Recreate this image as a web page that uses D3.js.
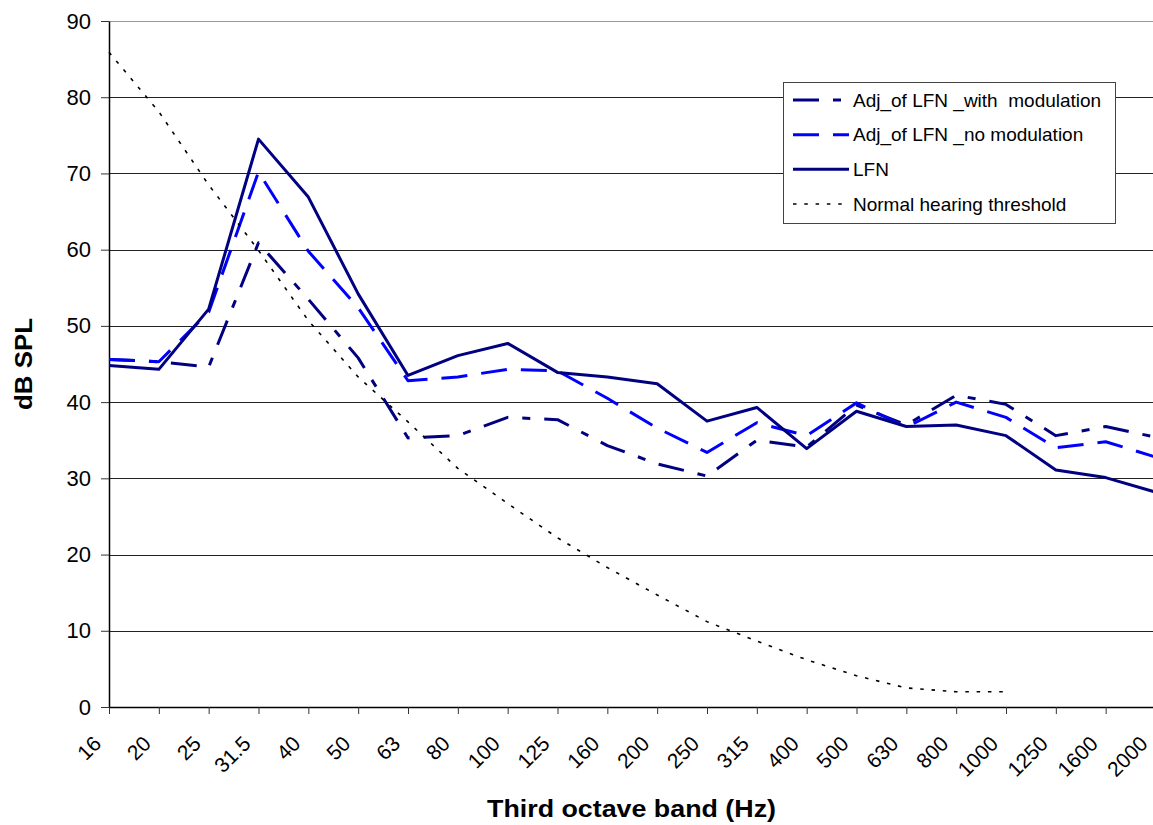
<!DOCTYPE html>
<html>
<head>
<meta charset="utf-8">
<script src="https://cdn.jsdelivr.net/npm/d3@7"></script>
<style>
  body { margin: 0; background: #fff; }
  svg { display: block; font-family: Arial, "Liberation Sans", sans-serif; }
</style>
</head>
<body>
<div id="graph"></div>
<script>
// Third octave bands (Hz)
const bands = ["16", "20", "25", "31.5", "40", "50", "63", "80", "100", "125", "160",
  "200", "250", "315", "400", "500", "630", "800", "1000", "1250", "1600", "2000"];
const yTicks = [0, 10, 20, 30, 40, 50, 60, 70, 80, 90];

// dB SPL values
const withModulation = [45.6, 45.3, 44.6, 60.9, 53.5, 45.8, 35.3, 35.6, 38.0, 37.7, 34.3,
  31.9, 30.3, 35.0, 34.1, 39.6, 37.0, 40.9, 39.7, 35.6, 36.8, 35.4];
const noModulation = [45.6, 45.3, 51.8, 70.2, 59.8, 52.4, 42.8, 43.3, 44.3, 44.1, 40.5,
  36.6, 33.4, 37.3, 35.6, 39.9, 36.7, 40.0, 38.0, 34.0, 34.8, 32.8];
const lfn = [44.8, 44.3, 52.2, 74.5, 66.9, 54.2, 43.5, 46.1, 47.7, 43.9, 43.3,
  42.4, 37.5, 39.3, 33.9, 38.8, 36.8, 37.0, 35.6, 31.1, 30.1, 28.2];
// threshold stops at 1000 Hz
const hearingThreshold = [85.9, 78.1, 68.5, 59.9, 50.7, 43.3, 37.4, 31.3, 26.7, 22.2, 18.3,
  14.7, 11.2, 8.65, 6.2, 4.1, 2.5, 2.0, 2.0];

const seriesNames = ["Adj_of LFN _with  modulation", "Adj_of LFN _no modulation", "LFN", "Normal hearing threshold"];

const width = 1153;
const height = 825;
const plotLeft = 109;
const plotRight = 1155.5;
const plotTop = 21;
const plotBottom = 707;

const x = d3.scalePoint().domain(bands).range([plotLeft, plotRight]);
const y = d3.scaleLinear().domain([0, 90]).range([plotBottom, plotTop]);

const series = [
  { name: seriesNames[0], values: withModulation, color: "#000080", width: 3, dash: "26,14,8,14" },
  { name: seriesNames[1], values: noModulation, color: "#0000ff", width: 3, dash: "26,14" },
  { name: seriesNames[2], values: lfn, color: "#000080", width: 3, dash: null },
  { name: seriesNames[3], values: hearingThreshold, color: "#000", width: 1.6, dash: "3.5,7.8" }
];

const svg = d3.select("#graph").append("svg")
  .attr("width", width)
  .attr("height", height);

// horizontal gridlines
svg.append("g")
  .selectAll("line")
  .data(yTicks)
  .join("line")
  .attr("x1", plotLeft)
  .attr("x2", width)
  .attr("y1", d => Math.round(y(d)) + 0.5)
  .attr("y2", d => Math.round(y(d)) + 0.5)
  .attr("stroke", d => d === 90 ? "#999" : "#222")
  .attr("stroke-width", 1);

// y axis
const yAxis = svg.append("g")
  .attr("transform", `translate(${plotLeft},0)`)
  .call(d3.axisLeft(y).tickValues(yTicks).tickSize(8).tickSizeOuter(0).tickPadding(10));
yAxis.select(".domain").attr("stroke", "#000").attr("stroke-width", 1.5);
yAxis.selectAll(".tick line").attr("stroke", "#333");
yAxis.selectAll("text")
  .attr("font-size", 22)
  .attr("font-family", "Arial, 'Liberation Sans', sans-serif")
  .attr("fill", "#000");

// x axis
const xAxis = svg.append("g")
  .attr("transform", `translate(0,${plotBottom})`)
  .call(d3.axisBottom(x).tickSize(7).tickSizeOuter(0));
xAxis.select(".domain").attr("stroke", "#000").attr("stroke-width", 1.5);
xAxis.selectAll(".tick line").attr("stroke", "#333");
xAxis.selectAll("text")
  .attr("y", 0)
  .attr("dy", 0)
  .attr("text-anchor", "end")
  .attr("transform", "translate(-7,38) rotate(-45)")
  .attr("font-size", 21)
  .attr("font-family", "Arial, 'Liberation Sans', sans-serif")
  .attr("fill", "#000");

// axis titles
svg.append("text")
  .attr("transform", `translate(32,${(plotTop + plotBottom) / 2}) rotate(-90)`)
  .attr("text-anchor", "middle")
  .attr("font-weight", "bold")
  .attr("font-size", 24)
  .attr("textLength", 92)
  .attr("lengthAdjust", "spacingAndGlyphs")
  .text("dB SPL");

svg.append("text")
  .attr("x", 631.5)
  .attr("y", 817)
  .attr("text-anchor", "middle")
  .attr("font-weight", "bold")
  .attr("font-size", 24)
  .attr("textLength", 289)
  .attr("lengthAdjust", "spacingAndGlyphs")
  .text("Third octave band (Hz)");

// series lines
const line = d3.line()
  .x((d, i) => x(bands[i]))
  .y(d => y(d));

svg.append("g")
  .selectAll("path")
  .data(series)
  .join("path")
  .attr("fill", "none")
  .attr("stroke", d => d.color)
  .attr("stroke-width", d => d.width)
  .attr("stroke-dasharray", d => d.dash)
  .attr("stroke-linejoin", "round")
  .attr("d", d => line(d.values));

// legend
const legend = svg.append("g");
legend.append("rect")
  .attr("x", 783.5)
  .attr("y", 82.5)
  .attr("width", 332)
  .attr("height", 141)
  .attr("fill", "#fff")
  .attr("stroke", "#444")
  .attr("stroke-width", 1);

const rowY = d3.scalePoint().domain(seriesNames).range([100, 204]);
const rows = legend.selectAll("g.row")
  .data(series)
  .join("g")
  .attr("class", "row")
  .attr("transform", d => `translate(0,${rowY(d.name)})`);

rows.append("line")
  .attr("x1", 793)
  .attr("x2", 849)
  .attr("stroke", d => d.color)
  .attr("stroke-width", d => d.width)
  .attr("stroke-dasharray", d => d.dash);

rows.append("text")
  .attr("x", 853)
  .attr("dy", "0.35em")
  .attr("font-size", 19)
  .attr("fill", "#000")
  .style("white-space", "pre")
  .text(d => d.name);
</script>
</body>
</html>
